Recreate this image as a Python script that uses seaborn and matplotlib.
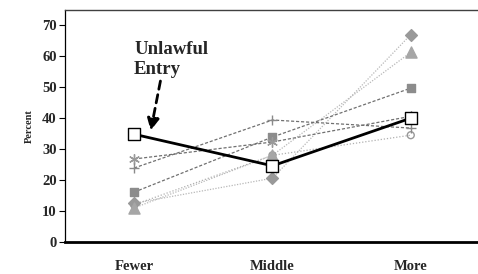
import matplotlib
matplotlib.use("Agg")
import matplotlib.pyplot as plt
import seaborn as sns
import pandas as pd

categories = ["Fewer", "Middle", "More"]

# values (percent)
diamond_vals = [12.5, 20.6, 67.0]
triangle_vals = [11.0, 28.0, 61.3]
square_vals = [16.1, 33.9, 49.7]
asterisk_vals = [26.8, 32.3, 40.6]
plus_vals = [23.9, 39.4, 36.8]
circle_vals = [12.0, 28.0, 34.5]
unlawful_vals = [34.8, 24.6, 40.0]

sns.set_style("white")
plt.rcParams["font.family"] = ["Liberation Serif", "DejaVu Serif"]

fig = plt.figure(figsize=(4.78, 2.74), dpi=100)
ax = fig.add_axes([0.136, 0.117, 0.868, 0.847])

x = [0, 1, 2]

# (values, marker, colour, line colour, dashes, marker size, filled)
series = [
    (circle_vals, "o", "#999999", "#b0b0b0", (1, 1.5), 5, False),
    (diamond_vals, "D", "#999999", "#b8b8b8", (1, 1.2), 6, True),
    (triangle_vals, "^", "#a6a6a6", "#b8b8b8", (1, 1.2), 8, True),
    (square_vals, "s", "#8c8c8c", "#707070", (2.5, 1.5), 6, True),
    (asterisk_vals, (6, 2, 0), "#9a9a9a", "#707070", (2.5, 1.5), 7, True),
    (plus_vals, "+", "#8a8a8a", "#707070", (2.5, 1.5), 7, True),
]

for vals, mk, mcol, lcol, dash, ms, filled in series:
    df = pd.DataFrame({"pos": x, "pct": vals})
    sns.lineplot(data=df, x="pos", y="pct", ax=ax, color=lcol, linewidth=0.9,
                 zorder=2)
    ax.lines[-1].set_dashes(dash)
    if filled:
        ax.scatter(x, vals, marker=mk, s=ms ** 2, color=mcol, linewidths=1,
                   zorder=3)
    else:
        ax.scatter(x, vals, marker=mk, s=ms ** 2, facecolors="none",
                   edgecolors=mcol, linewidths=1, zorder=3)

df_u = pd.DataFrame({"pos": x, "pct": unlawful_vals})
sns.lineplot(data=df_u, x="pos", y="pct", ax=ax, color="black", linewidth=2,
             zorder=5)
ax.scatter(x, unlawful_vals, marker="s", s=70, facecolors="white",
           edgecolors="black", linewidths=1, zorder=6)

# label and dashed arrow
ax.text(0.0, 53.0, "Unlawful\nEntry", fontsize=13.5, fontweight="bold",
        ha="left", va="bottom", linespacing=1.25, zorder=7)
ax.annotate("", xy=(0.12, 36.0), xytext=(0.19, 52.0),
            arrowprops=dict(arrowstyle="-|>,head_width=0.35,head_length=0.7",
                            color="black", lw=2, linestyle=(0, (3, 2)),
                            shrinkA=0, shrinkB=0), zorder=7)

ax.set_xlim(-0.5, 2.5)
ax.set_ylim(0, 75)
ax.set_yticks(range(0, 80, 10))
ax.set_xticks(x)
ax.set_xticklabels(categories)
ax.set_xticks([0.5, 1.5], minor=True)
ax.tick_params(axis="x", which="major", length=0, pad=13, labelsize=10.5)
ax.tick_params(axis="x", which="minor", length=4, width=0.8, direction="out",
               color="black")
ax.tick_params(axis="y", length=4, width=0.8, direction="out", labelsize=10.5,
               left=True, color="black", pad=2)
for lab in ax.get_xticklabels() + ax.get_yticklabels():
    lab.set_fontweight("bold")

ax.set_xlabel("")
ax.set_ylabel("Percent", fontsize=7.5, fontweight="bold", labelpad=6)

ax.spines["left"].set_color("black")
ax.spines["left"].set_linewidth(0.9)
ax.spines["bottom"].set_color("black")
ax.spines["bottom"].set_linewidth(2)
ax.spines["top"].set_color("#404040")
ax.spines["top"].set_linewidth(1)
ax.spines["right"].set_visible(False)

fig.savefig("out.png", dpi=100)
